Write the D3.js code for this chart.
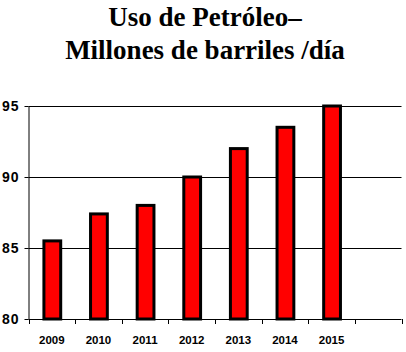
<!DOCTYPE html>
<html lang="es">
<head>
<meta charset="UTF-8">
<title>Uso de Petróleo</title>
<style>
  body { margin: 0; background: #fff; }
  .title { font-family: "Liberation Serif", "Times New Roman", serif; font-weight: bold; font-size: 27px; }
  .ylab { font-family: "Liberation Sans", Arial, sans-serif; font-weight: bold; font-size: 14px; letter-spacing: 1px; }
  .xlab { font-family: "Liberation Sans", Arial, sans-serif; font-weight: bold; font-size: 11.5px; }
</style>
</head>
<body>
<svg width="406" height="352"></svg>
<script src="https://cdn.jsdelivr.net/npm/d3@7"></script>
<script>
const years = ["2009", "2010", "2011", "2012", "2013", "2014", "2015"];
const usage = [85.5, 87.4, 88.0, 90.0, 92.0, 93.5, 95.0];
const yTicks = [80, 85, 90, 95];
const titleLines = ["Uso de Petróleo–", "Millones de barriles /día"];

const svg = d3.select("svg");
const plotLeft = 28.5, plotRight = 401.5, plotTop = 106, plotBottom = 319;

// one extra empty slot at the end, like the original
const x = d3.scaleBand().domain(years.concat([" "])).range([plotLeft, plotRight]);
const y = d3.scaleLinear().domain([80, 95]).range([plotBottom, plotTop]);

svg.selectAll(".title")
  .data(titleLines)
  .enter().append("text")
  .attr("class", "title")
  .attr("x", 205)
  .attr("y", (d, i) => 26 + i * 33)
  .attr("text-anchor", "middle")
  .text(d => d);

// gridlines
svg.selectAll(".grid")
  .data(yTicks.slice(1))
  .enter().append("line")
  .attr("x1", plotLeft).attr("x2", plotRight)
  .attr("y1", d => Math.round(y(d)) + 0.5).attr("y2", d => Math.round(y(d)) + 0.5)
  .attr("stroke", "#000").attr("stroke-width", 1);

// y axis
const yAxis = svg.append("g")
  .attr("transform", `translate(${plotLeft},0)`)
  .call(d3.axisLeft(y).tickValues(yTicks).tickSize(4).tickSizeOuter(0).tickPadding(5));
yAxis.select(".domain").attr("stroke", "#000");
yAxis.selectAll("text").attr("class", "ylab").attr("fill", "#000");

// x axis, ticks at band edges
const edges = x.domain().map(d => x(d)).concat([plotRight]);
svg.append("line")
  .attr("x1", plotLeft).attr("x2", plotRight)
  .attr("y1", plotBottom + 0.5).attr("y2", plotBottom + 0.5)
  .attr("stroke", "#000");
svg.selectAll(".xtick")
  .data(edges)
  .enter().append("line")
  .attr("x1", d => Math.round(d) + 0.5).attr("x2", d => Math.round(d) + 0.5)
  .attr("y1", plotBottom).attr("y2", plotBottom + 5)
  .attr("stroke", "#000");
svg.selectAll(".xlab")
  .data(years)
  .enter().append("text")
  .attr("class", "xlab")
  .attr("x", d => x(d) + x.bandwidth() / 2)
  .attr("y", 344)
  .attr("text-anchor", "middle")
  .text(d => d);

// bars
const bw = x.bandwidth() * 0.36;
svg.selectAll(".bar")
  .data(years)
  .enter().append("rect")
  .attr("x", d => x(d) + x.bandwidth() / 2 - bw / 2 + 0.5)
  .attr("width", bw)
  .attr("y", (d, i) => y(usage[i]))
  .attr("height", (d, i) => plotBottom - y(usage[i]))
  .attr("fill", "#ff0000")
  .attr("stroke", "#000")
  .attr("stroke-width", 3);
</script>
</body>
</html>
